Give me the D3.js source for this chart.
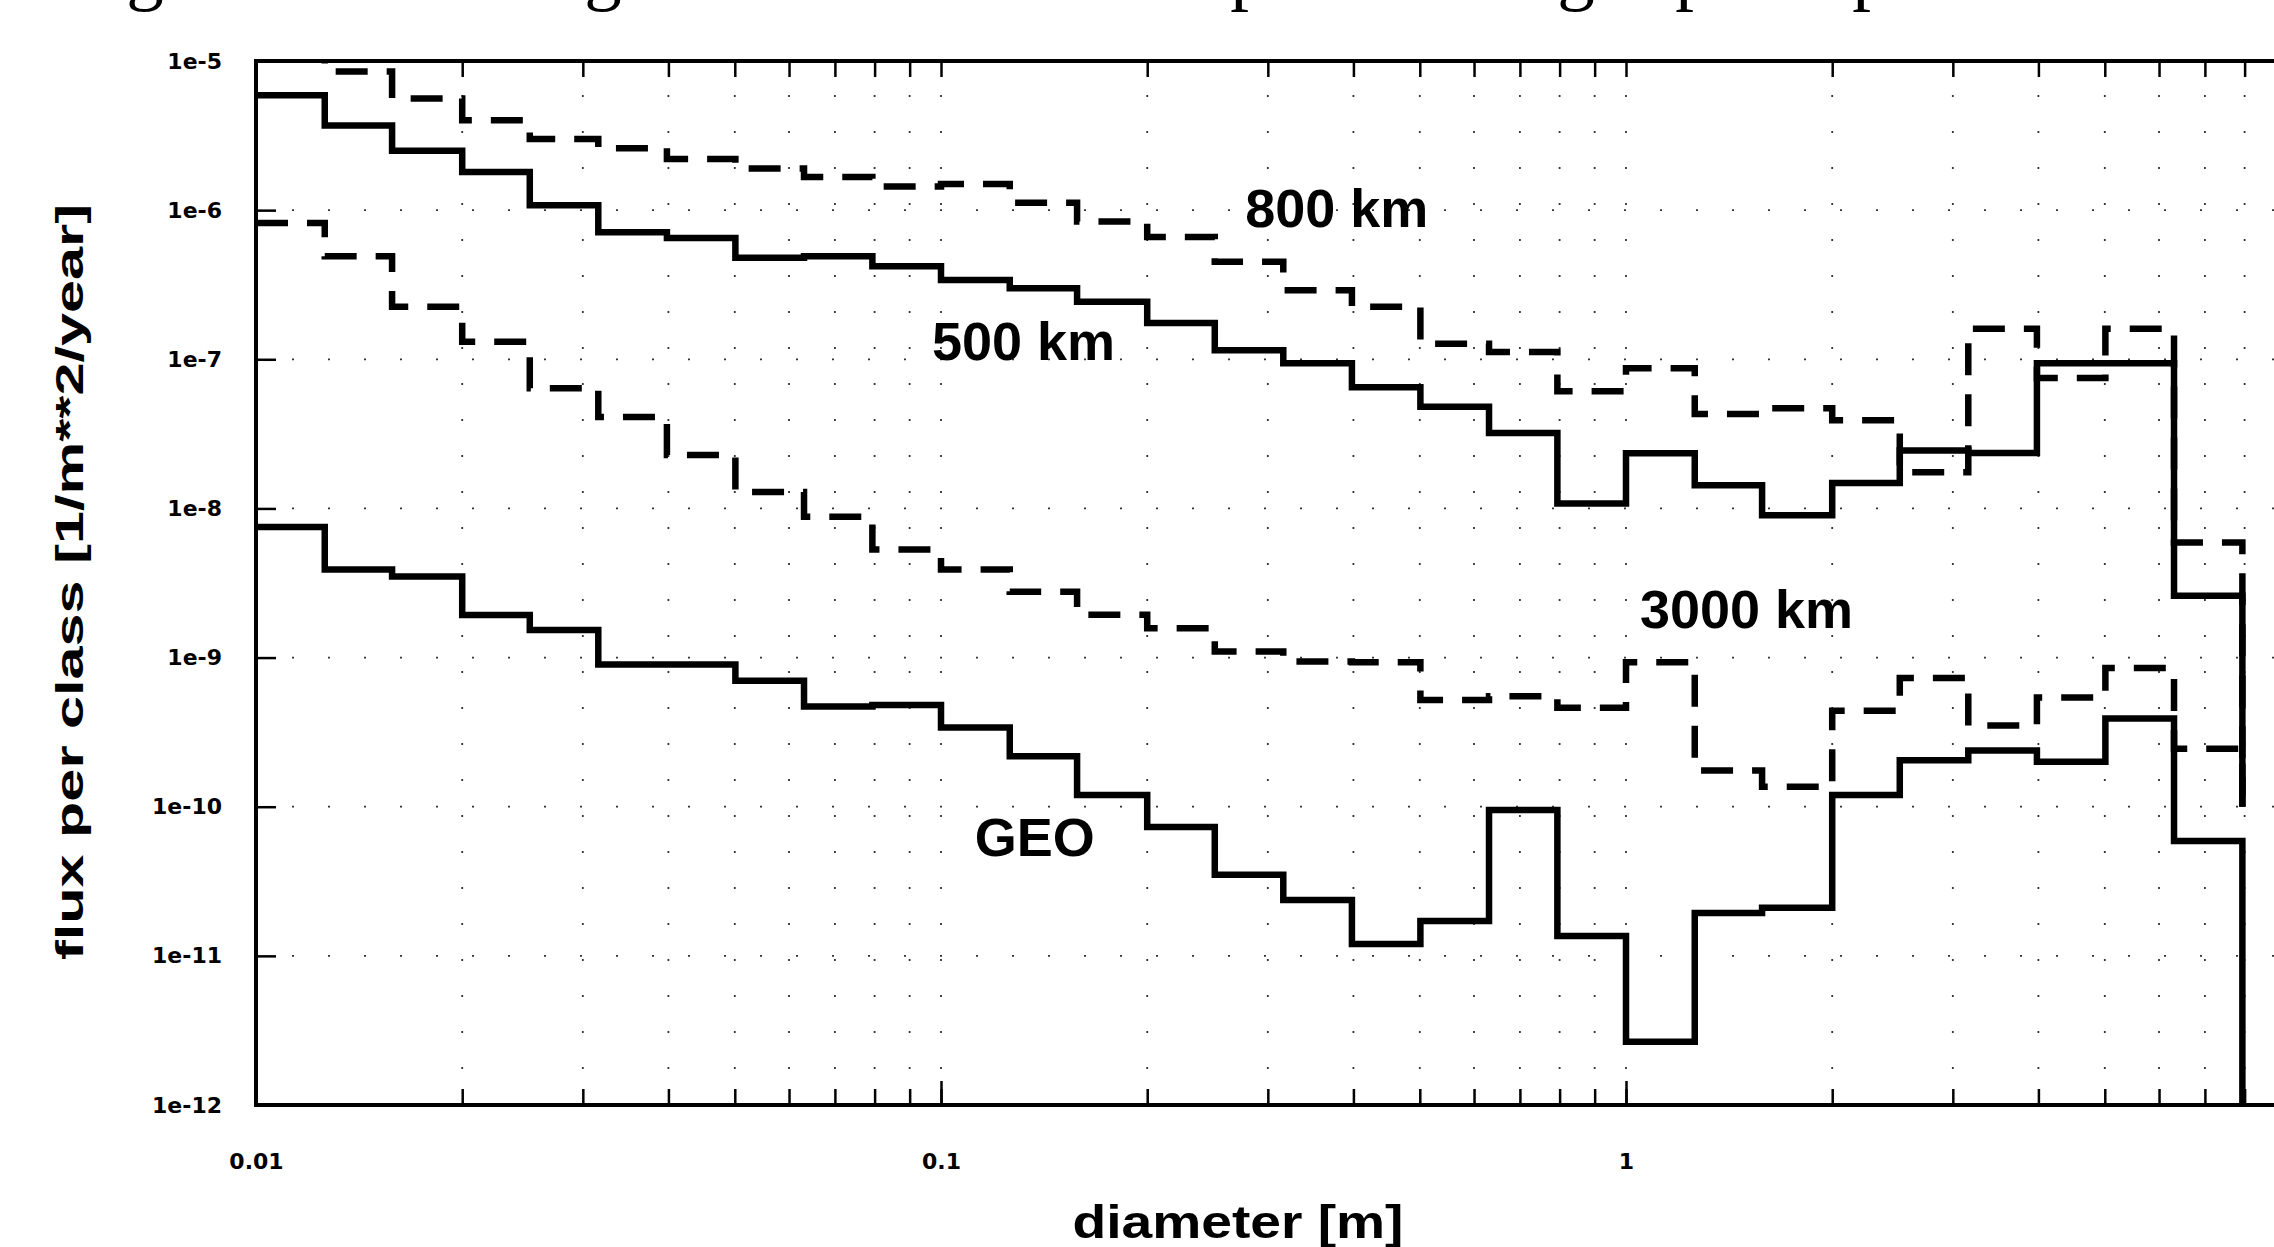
<!DOCTYPE html>
<html>
<head>
<meta charset="utf-8">
<script src="https://cdn.jsdelivr.net/npm/d3@7"></script>
<style>
  body { margin: 0; background: #fff; }
  svg { display: block; }
</style>
</head>
<body>
<script>

// Size classes, 10 per decade: lower edges in m, last entry is the upper edge of the last class
var classEdges = [0.01, 0.0126, 0.0158, 0.02, 0.0251, 0.0316, 0.0398, 0.0501, 0.0631, 0.0794,
    0.1, 0.126, 0.158, 0.2, 0.251, 0.316, 0.398, 0.501, 0.631, 0.794,
    1, 1.26, 1.58, 2, 2.51, 3.16, 3.98, 5.01, 6.31, 7.94];

// flux per class [1/m**2/year], one value per size class
var flux800 = [1.2e-5, 8.5e-6, 5.6e-6, 4.0e-6, 3.0e-6, 2.6e-6, 2.2e-6, 1.9e-6, 1.67e-6, 1.44e-6,
    1.5e-6, 1.12e-6, 8.4e-7, 6.6e-7, 4.5e-7, 2.9e-7, 2.25e-7, 1.27e-7, 1.12e-7, 6.1e-8,
    8.7e-8, 4.3e-8, 4.7e-8, 3.9e-8, 1.75e-8, 1.6e-7, 7.5e-8, 1.6e-7, 5.9e-9];
var flux500 = [5.9e-6, 3.7e-6, 2.5e-6, 1.8e-6, 1.08e-6, 7.1e-7, 6.5e-7, 4.8e-7, 4.9e-7, 4.2e-7,
    3.4e-7, 3.0e-7, 2.43e-7, 1.75e-7, 1.15e-7, 9.4e-8, 6.5e-8, 4.8e-8, 3.2e-8, 1.08e-8,
    2.34e-8, 1.43e-8, 9.0e-9, 1.48e-8, 2.45e-8, 2.35e-8, 9.4e-8, 9.4e-8, 2.6e-9];
var flux3000 = [8.2e-7, 4.9e-7, 2.25e-7, 1.31e-7, 6.4e-8, 4.1e-8, 2.28e-8, 1.29e-8, 8.8e-9, 5.3e-9,
    3.9e-9, 2.76e-9, 1.94e-9, 1.57e-9, 1.1e-9, 9.4e-10, 9.3e-10, 5.2e-10, 5.5e-10, 4.6e-10,
    9.3e-10, 1.75e-10, 1.36e-10, 4.4e-10, 7.3e-10, 3.5e-10, 5.4e-10, 8.5e-10, 2.45e-10];
var fluxGeo = [7.5e-9, 3.9e-9, 3.5e-9, 1.93e-9, 1.53e-9, 9.0e-10, 9.0e-10, 7.0e-10, 4.7e-10, 4.8e-10,
    3.4e-10, 2.18e-10, 1.2e-10, 7.3e-11, 3.5e-11, 2.37e-11, 1.2e-11, 1.71e-11, 9.5e-11, 1.36e-11,
    2.66e-12, 1.94e-11, 2.1e-11, 1.2e-10, 2.05e-10, 2.38e-10, 2.0e-10, 3.9e-10, 5.9e-11];

// where each curve falls to after the last class
var dropFlux = [1e-10, 1e-10, 1e-10, 1e-12];

var seriesNames = ["800 km", "500 km", "3000 km", "GEO"];
// anchor of each curve label (start of text baseline), in data units
var labelDiameter = [0.278, 0.097, 1.048, 0.112];
var labelFlux = [7.7e-7, 9.9e-8, 1.58e-9, 4.67e-11];

var yTicks = [1e-5, 1e-6, 1e-7, 1e-8, 1e-9, 1e-10, 1e-11, 1e-12];
var yTickLabels = ["1e-5", "1e-6", "1e-7", "1e-8", "1e-9", "1e-10", "1e-11", "1e-12"];
var xTicks = [0.01, 0.1, 1];
var xTickLabels = ["0.01", "0.1", "1"];

// descenders of the caption line above the figure (cut off by the scan)
var captionGlyphs = ["g", "g", "p", "g", "p", "p"];
var captionGlyphX = [145, 603, 1249, 1576, 1694, 1871];

// Setup size.
var W = 2274, H = 1247;
var plot = { left: 256, top: 61, bottom: 1105, right: 2311 };

var svg = d3.select("body").append("svg")
    .attr("width", W)
    .attr("height", H)
    .style("background", "#fff");

var x = d3.scaleLog().domain([0.01, 10]).range([plot.left, plot.right]);
var y = d3.scaleLog().domain([1e-12, 1e-5]).range([plot.bottom, plot.top]);

svg.append("defs").append("clipPath").attr("id", "plotclip")
    .append("rect")
    .attr("x", plot.left).attr("y", plot.top)
    .attr("width", plot.right - plot.left).attr("height", plot.bottom - plot.top);

// caption remnants
svg.append("g").selectAll("text")
    .data(captionGlyphs)
    .enter().append("text")
    .attr("x", function (d, i) { return captionGlyphX[i]; })
    .attr("y", -4)
    .attr("text-anchor", "middle")
    .style("font-family", "'Liberation Serif', 'DejaVu Serif', serif")
    .style("font-size", "75px")
    .text(function (d) { return d; });

// dotted grid
var grid = svg.append("g").attr("class", "grid")
    .attr("stroke", "#333").attr("stroke-width", 1.8)
    .attr("stroke-dasharray", "2,34");

grid.selectAll("line.v")
    .data(x.ticks().filter(function (d) { return d > 0.01 && d < 10; }))
    .enter().append("line")
    .attr("class", "v")
    .attr("x1", function (d) { return x(d); })
    .attr("x2", function (d) { return x(d); })
    .attr("y1", plot.bottom).attr("y2", plot.top);

grid.selectAll("line.h")
    .data(yTicks.slice(1, -1))
    .enter().append("line")
    .attr("class", "h")
    .attr("x1", plot.left).attr("x2", plot.right)
    .attr("y1", function (d) { return y(d); })
    .attr("y2", function (d) { return y(d); });

// axes
var tickFont = "'DejaVu Sans', sans-serif";

var yAxis = d3.axisLeft(y)
    .tickValues(yTicks)
    .tickFormat(function (d, i) { return yTickLabels[i]; })
    .tickSize(-20)
    .tickPadding(34);

svg.append("g").attr("transform", "translate(" + plot.left + ",0)").call(yAxis);

var xAxis = d3.axisBottom(x)
    .tickValues(xTicks)
    .tickFormat(function (d, i) { return xTickLabels[i]; })
    .tickSize(-24)
    .tickPadding(48);

svg.append("g").attr("transform", "translate(0," + plot.bottom + ")").call(xAxis);

var minorBottom = d3.axisBottom(x).tickValues(x.ticks()).tickFormat("").tickSize(-16);
var minorTop = d3.axisTop(x).tickValues(x.ticks()).tickFormat("").tickSize(-16);
svg.append("g").attr("transform", "translate(0," + plot.bottom + ")").call(minorBottom);
svg.append("g").attr("transform", "translate(0," + plot.top + ")").call(minorTop);

svg.selectAll(".domain").remove();
svg.selectAll(".tick line").attr("stroke", "#000").attr("stroke-width", 2.5);
svg.selectAll(".tick text")
    .attr("fill", "#000")
    .style("font-family", tickFont)
    .style("font-weight", "bold")
    .style("font-size", "22px");

// frame
svg.append("rect")
    .attr("x", plot.left).attr("y", plot.top)
    .attr("width", plot.right - plot.left).attr("height", plot.bottom - plot.top)
    .attr("fill", "none").attr("stroke", "#000").attr("stroke-width", 4);

// step curves
var series = [flux800, flux500, flux3000, fluxGeo];
var dashed = [true, false, true, false];

var line = d3.line()
    .x(function (d) { return x(d[0]); })
    .y(function (d) { return y(d[1]); })
    .curve(d3.curveStepAfter);

var curves = svg.append("g").attr("clip-path", "url(#plotclip)");

series.forEach(function (vals, s) {
    var pts = vals.map(function (v, i) { return [classEdges[i], v]; });
    pts.push([classEdges[vals.length], dropFlux[s]]);
    curves.append("path")
        .attr("d", line(pts))
        .attr("fill", "none")
        .attr("stroke", "#000")
        .attr("stroke-width", 6.5)
        .attr("stroke-linejoin", "miter")
        .attr("stroke-dasharray", dashed[s] ? "32,19" : null);
});

// curve labels
svg.append("g").selectAll("text")
    .data(seriesNames)
    .enter().append("text")
    .attr("x", function (d, i) { return x(labelDiameter[i]); })
    .attr("y", function (d, i) { return y(labelFlux[i]); })
    .style("font-family", "'Liberation Sans', Arial, sans-serif")
    .style("font-weight", "bold")
    .style("font-size", "54px")
    .text(function (d) { return d; });

// axis titles
svg.append("text")
    .attr("x", 1238).attr("y", 1238)
    .attr("text-anchor", "middle")
    .attr("textLength", 331).attr("lengthAdjust", "spacingAndGlyphs")
    .style("font-family", "'Liberation Sans', Arial, sans-serif")
    .style("font-weight", "bold")
    .style("font-size", "46px")
    .text("diameter [m]");

svg.append("text")
    .attr("transform", "translate(83,582) rotate(-90)")
    .attr("text-anchor", "middle")
    .attr("textLength", 756).attr("lengthAdjust", "spacingAndGlyphs")
    .style("font-family", "'Liberation Sans', Arial, sans-serif")
    .style("font-weight", "bold")
    .style("font-size", "38px")
    .text("flux per class [1/m**2/year]");

</script>
</body>
</html>
